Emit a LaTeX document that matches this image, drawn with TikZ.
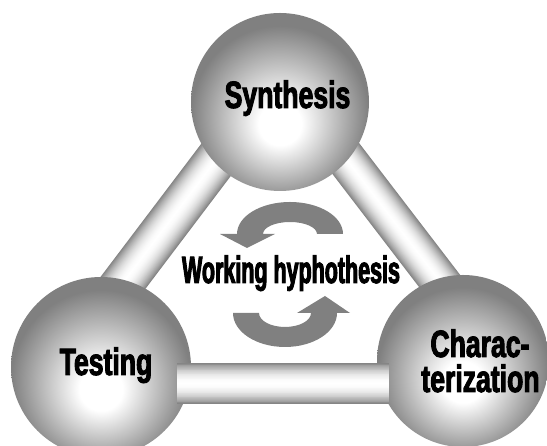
\documentclass[tikz,border=0pt]{standalone}
\usepackage{fontspec}
\newfontfamily\lblfont{Liberation Sans}[FakeStretch=0.70,FakeBold=2.5]
\newfontfamily\midfont{Liberation Sans}[FakeStretch=0.565,FakeBold=2.5]
\definecolor{sphedge}{gray}{0.50}
\definecolor{rodedge}{gray}{0.52}
\definecolor{arrowgray}{gray}{0.50}
\pgfdeclareradialshading{spherefill}{\pgfpoint{0bp}{-7bp}}{color(0bp)=(white); color(6bp)=(white); color(25bp)=(sphedge); color(50bp)=(sphedge)}
\newcommand\rodline[3]{%
  \foreach \i in {0,...,24}{%
    \pgfmathsetmacro\myu{1-\i/25}%
    \pgfmathsetmacro\mywd{#3*\myu}%
    \pgfmathsetmacro\myp{100*(1-\myu*\myu)}%
    \draw[line width=\mywd pt, color=white!\myp!rodedge] (#1) -- (#2);
  }}
\tikzset{
  sphere/.style={circle, inner sep=0pt, shade, shading=spherefill},
  lbl/.style={font=\lblfont\bfseries\fontsize{38}{38}\selectfont, inner sep=0pt, text=black},
  midlbl/.style={font=\midfont\bfseries\fontsize{38}{38}\selectfont, inner sep=0pt, text=black},
  turnarrow/.style={fill=arrowgray, draw=none}
}
\begin{document}
\begin{tikzpicture}[x=1pt,y=1pt]
\useasboundingbox (0,0) rectangle (547,446);
\fill[white] (0,0) rectangle (547,446);
\clip (0,0) rectangle (547,446);
% rod end points
\coordinate (apex) at (281,372);
\coordinate (lend) at (48,64);
\coordinate (rend) at (517,64);
\coordinate (bL) at (177,62.5);
\coordinate (bR) at (389,62.5);
% diagonal rods (behind spheres)
\rodline{apex}{lend}{43}
\rodline{apex}{rend}{40}
% spheres
\node[sphere, minimum size=178pt] (syn) at (280,344) {};
\node[sphere, minimum size=180pt] (tes) at (101,79) {};
\node[sphere, minimum size=172pt] (cha) at (463,85) {};
% bottom rod (in front)
\rodline{bL}{bR}{41}
% turning arrows
\fill[turnarrow] (343,212) arc[start angle=0, end angle=180, x radius=53, y radius=32]
  -- (220,212) -- (247,198) -- (275,212) -- (263,212)
  arc[start angle=180, end angle=0, x radius=27, y radius=12] -- cycle;
\fill[turnarrow] (233,133) arc[start angle=180, end angle=360, x radius=52, y radius=34]
  -- (350,133) -- (325,150) -- (297,133) -- (311,133)
  arc[start angle=0, end angle=-180, x radius=26, y radius=14] -- cycle;
% labels
\node[lbl, anchor=base] (tsyn) at (287.5,338) {Synthesis};
\node[lbl, anchor=base] (ttes) at (106,71) {Testing};
\node[lbl, anchor=base] (tcha1) at (480,89) {Charac-};
\node[lbl, anchor=base] (tcha2) at (480.5,54) {terization};
\node[midlbl, anchor=base] (twh) at (291,163) {Working hyphothesis};
\end{tikzpicture}
\end{document}
